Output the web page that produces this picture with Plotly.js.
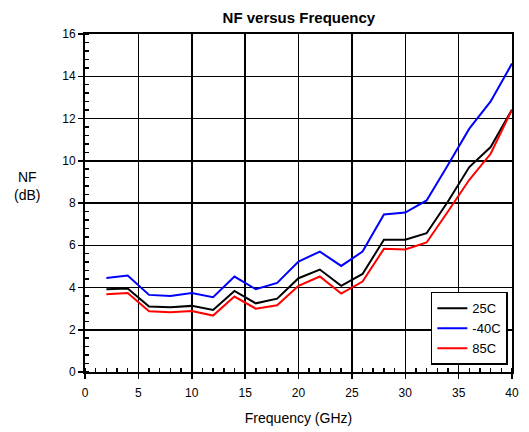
<!DOCTYPE html>
<html>
<head>
<meta charset="utf-8">
<script src="https://cdn.plot.ly/plotly-3.0.1.min.js"></script>
<style>html,body{margin:0;padding:0;background:#fff;}#chart{width:529px;height:432px;}</style>
</head>
<body>
<div id="chart"></div>
<script>
const freq = [2,4,6,8,10,12,14,16,18,20,22,24,26,28,30,32,34,36,38,40];
const nf25 = [3.92,3.95,3.10,3.07,3.13,2.94,3.84,3.25,3.47,4.44,4.85,4.08,4.64,6.26,6.26,6.57,8.07,9.70,10.65,12.42];
const nfM40 = [4.45,4.57,3.65,3.60,3.74,3.54,4.52,3.92,4.22,5.23,5.70,5.02,5.70,7.46,7.55,8.12,9.80,11.52,12.81,14.60];
const nf85 = [3.68,3.74,2.88,2.83,2.89,2.67,3.57,3.00,3.16,4.08,4.52,3.71,4.28,5.83,5.80,6.13,7.60,9.10,10.33,12.42];
const seriesNames = ['25C','-40C','85C'];
const seriesColors = ['#000000','#0000ff','#ff0000'];

const font = 'Liberation Sans, Arial, sans-serif';
const traces = [nf25, nfM40, nf85].map((ys, i) => ({
  x: freq, y: ys, type: 'scatter', mode: 'lines', name: seriesNames[i],
  line: {color: seriesColors[i], width: 2}
}));

const layout = {
  width: 529, height: 432,
  margin: {l: 85, r: 17, t: 34, b: 60},
  paper_bgcolor: '#fff', plot_bgcolor: '#fff',
  font: {family: font, size: 12, color: '#000'},
  title: {text: '<b>NF versus Frequency</b>', x: 0.565, xanchor: 'center', y: 0.958, yanchor: 'middle',
          font: {family: font, size: 15, color: '#000'}},
  xaxis: {
    range: [0, 40], dtick: 5, tick0: 0,
    showgrid: true, gridcolor: '#000', gridwidth: 1.5,
    showline: true, linecolor: '#000', linewidth: 2, mirror: true,
    ticks: 'outside', ticklen: 5, tickcolor: '#000', tickwidth: 1.5,
    ticklabelstandoff: 4,
    minor: {dtick: 1, ticks: 'inside', ticklen: 4, tickcolor: '#000', tickwidth: 1.5, showgrid: false},
    zeroline: false, fixedrange: true,
    tickfont: {family: font, size: 12, color: '#000'},
    title: {text: 'Frequency (GHz)', font: {family: font, size: 14, color: '#000'}, standoff: 14}
  },
  yaxis: {
    range: [0, 16], dtick: 2, tick0: 0,
    showgrid: true, gridcolor: '#000', gridwidth: 1.5,
    showline: true, linecolor: '#000', linewidth: 2, mirror: true,
    ticks: 'outside', ticklen: 5, tickcolor: '#000', tickwidth: 1.5,
    minor: {dtick: 0.4, ticks: 'inside', ticklen: 4, tickcolor: '#000', tickwidth: 1.5, showgrid: false},
    zeroline: false, fixedrange: true,
    tickfont: {family: font, size: 12, color: '#000'}
  },
  annotations: [{
    text: 'NF<br>(dB)', xref: 'paper', yref: 'paper', x: -0.135, y: 0.55,
    xanchor: 'center', yanchor: 'middle', showarrow: false,
    font: {family: font, size: 14, color: '#000'}
  }],
  legend: {
    x: 0.81, y: 0.237, xanchor: 'left', yanchor: 'top',
    bgcolor: '#fff', bordercolor: '#000', borderwidth: 1.5,
    font: {family: font, size: 13, color: '#000'},
    itemwidth: 30, tracegroupgap: 0
  },
  showlegend: true
};
Plotly.newPlot('chart', traces, layout, {displayModeBar: false, staticPlot: true});
</script>
</body>
</html>
